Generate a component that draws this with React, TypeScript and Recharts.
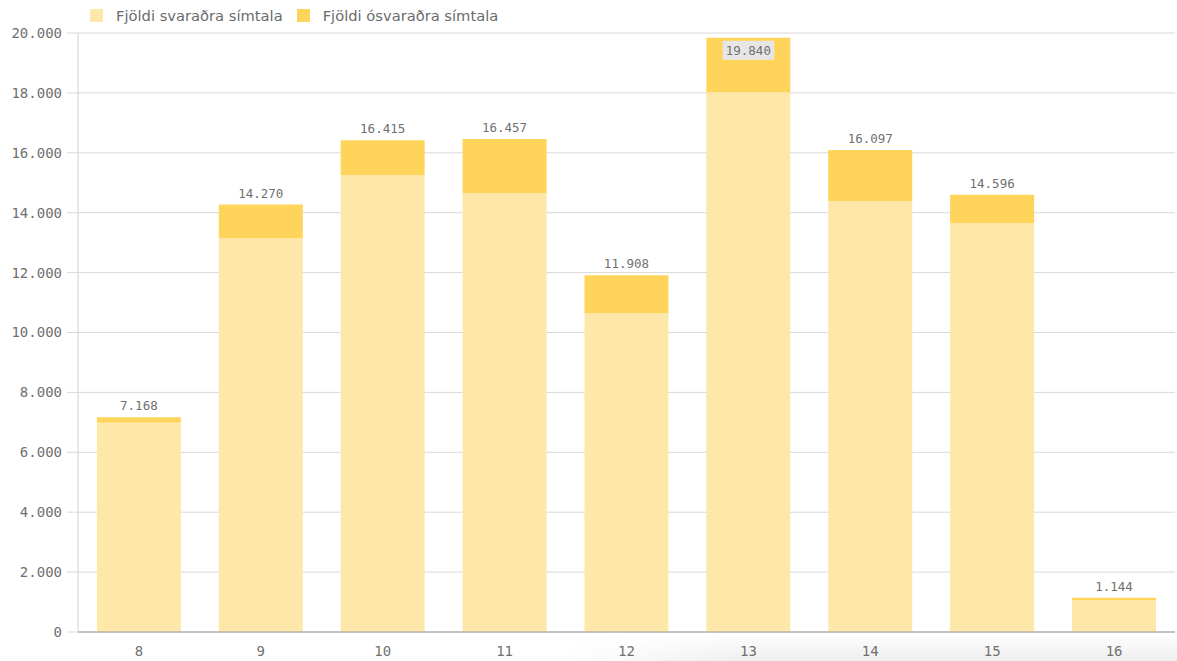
import { BarChart, Bar, XAxis, YAxis, CartesianGrid, LabelList } from "recharts";

const weeks = ["8", "9", "10", "11", "12", "13", "14", "15", "16"];
const answered = [6990, 13146, 15249, 14648, 10644, 18018, 14381, 13647, 1068];
const unanswered = [178, 1124, 1166, 1809, 1264, 1822, 1716, 949, 76];
const totals = [7168, 14270, 16415, 16457, 11908, 19840, 16097, 14596, 1144];
const yTicks = [0, 2000, 4000, 6000, 8000, 10000, 12000, 14000, 16000, 18000, 20000];

const LIGHT = "#FEE8A9";
const DARK = "#FFD45B";
const MONO = "'DejaVu Sans Mono', monospace";

const chartData = weeks.map((w, i) => ({
  week: w,
  answered: answered[i],
  unanswered: unanswered[i],
  total: totals[i],
}));

const fmt = (v: number) => String(Math.round(v)).replace(/\B(?=(\d{3})+(?!\d))/g, ".");

const TotalLabel = (props: any) => {
  const { x, y, width, value } = props;
  const cx = x + width / 2;
  const text = fmt(value);
  // not enough room above the bar -> put it inside on a grey chip
  if (y < 50) {
    const w = text.length * 7.6 + 6;
    return (
      <g>
        <rect x={cx - w / 2} y={y + 3} width={w} height={19} fill="#E6E6E6" />
        <text x={cx} y={y + 17} textAnchor="middle" fill="#707070" fontSize={12.5} fontFamily={MONO}>
          {text}
        </text>
      </g>
    );
  }
  return (
    <text x={cx} y={y - 7} textAnchor="middle" fill="#707070" fontSize={12.5} fontFamily={MONO}>
      {text}
    </text>
  );
};

const legendItems = [
  { label: "Fjöldi svaraðra símtala", color: LIGHT },
  { label: "Fjöldi ósvaraðra símtala", color: DARK },
];

export default function App() {
  return (
    <div style={{ position: "absolute", left: 0, top: 0, width: 1177, height: 661, background: "#fff" }}>
      <div
        style={{
          position: "absolute",
          left: 560,
          top: 633,
          width: 617,
          height: 28,
          background: "linear-gradient(to bottom, #ffffff, #eeeeee)",
          WebkitMaskImage: "linear-gradient(to right, transparent, #000 30%)",
          maskImage: "linear-gradient(to right, transparent, #000 30%)",
        }}
      />
      <div
        style={{
          position: "absolute",
          left: 90,
          top: 7,
          display: "flex",
          alignItems: "center",
          fontFamily: "'DejaVu Sans', sans-serif",
          fontSize: 14.7,
          color: "#6b6b6b",
        }}
      >
        {legendItems.map((it) => (
          <div key={it.label} style={{ display: "flex", alignItems: "center", marginRight: 14 }}>
            <span style={{ width: 13, height: 13, background: it.color, marginRight: 13, display: "inline-block" }} />
            <span>{it.label}</span>
          </div>
        ))}
      </div>
      <div style={{ position: "absolute", left: 0, top: 0 }}>
        <BarChart
          width={1177}
          height={661}
          data={chartData}
          margin={{ top: 33, right: 2, bottom: 0, left: 0 }}
          barCategoryGap="15.5%"
        >
          <CartesianGrid vertical={false} stroke="#D9D9D9" />
          <XAxis
            dataKey="week"
            height={29}
            tickLine={false}
            axisLine={{ stroke: "#999" }}
            tick={{ fill: "#707070", fontSize: 14, fontFamily: MONO }}
            tickMargin={8}
          />
          <YAxis
            width={78}
            domain={[0, 20000]}
            ticks={yTicks}
            tickFormatter={fmt}
            tickSize={11}
            tickMargin={5}
            tickLine={{ stroke: "#D9D9D9" }}
            axisLine={{ stroke: "#D0D0D0" }}
            tick={{ fill: "#707070", fontSize: 14, fontFamily: MONO }}
          />
          <Bar dataKey="answered" stackId="a" fill={LIGHT} isAnimationActive={false} />
          <Bar dataKey="unanswered" stackId="a" fill={DARK} isAnimationActive={false}>
            <LabelList dataKey="total" content={<TotalLabel />} />
          </Bar>
        </BarChart>
      </div>
    </div>
  );
}
